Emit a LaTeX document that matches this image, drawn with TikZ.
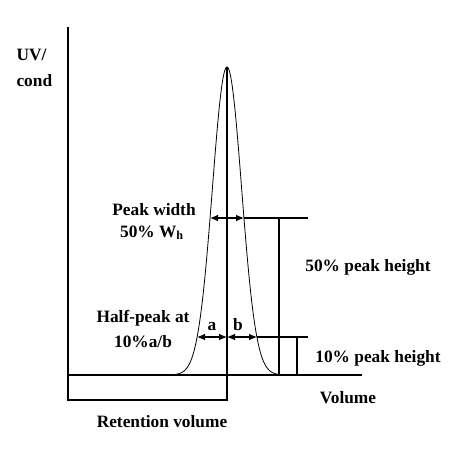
\documentclass[tikz,border=0pt]{standalone}
\usepackage{fontspec}
\setmainfont{Liberation Serif}
\usetikzlibrary{arrows.meta}
\tikzset{
  lbl/.style={font=\fontsize{13}{15}\selectfont\bfseries, inner sep=0pt, anchor=base},
  dimarrow/.style={{Latex[length=6pt,width=5pt]}-{Latex[length=6pt,width=5pt]}},
}
\begin{document}
\begin{tikzpicture}[x=0.75pt, y=-0.75pt, line width=0.8pt]
\useasboundingbox (0,0) rectangle (466,450);
% Axes and retention box
\coordinate (ytop) at (68,27);
\coordinate (org) at (68,375);
\coordinate (xend) at (362,375);
\coordinate (apex) at (227,67);
\coordinate (rv) at (227,400);
\draw (ytop) |- (rv) -- (apex);
\draw (org) -- (xend);

% Peak (gaussian)
\draw[line width=0.6pt] plot[domain=-56:56, samples=120]
  ({227+\x}, {375-308*exp(-0.5*(\x/14.6)*(\x/14.6))});

% Width markers at 50% and 10%
\coordinate (wl) at (210,218);
\coordinate (wm) at (227,218);
\coordinate (wr) at (244,218);
\coordinate (h50) at (308,218);
\coordinate (al) at (197,337);
\coordinate (am) at (227,337);
\coordinate (br) at (257,337);
\coordinate (h10) at (308,337);
\draw[dimarrow] (wl) -- (wr);
\draw (wr) -- (h50);
\draw[dimarrow] (al) -- (am);
\draw[dimarrow] (am) -- (br);
\draw (br) -- (h10);

% Height markers
\coordinate (v50t) at (279,218);
\coordinate (v50b) at (279,375);
\coordinate (v10t) at (297,337);
\coordinate (v10b) at (297,375);
\draw (v50t) -- (v50b);
\draw (v10t) -- (v10b);

% Labels
\node[lbl, anchor=base west] (uv) at (16,60) {UV/};
\node[lbl, anchor=base west] (cond) at (16,86) {cond};
\foreach \x/\y/\t/\n in {
  154/215/Peak width/pw,
  152/237/{50\% W\textsubscript{h}}/wh,
  143/322/Half-peak at/hp,
  143/347/10\%a\slash b/ab,
  212/330/a/la,
  238/330/b/lb,
  368/271/50\% peak height/p50,
  378/362/10\% peak height/p10,
  348/403/Volume/vol,
  162/427/Retention volume/ret
} {
  \node[lbl] (\n) at (\x,\y) {\t};
}
\end{tikzpicture}
\end{document}
